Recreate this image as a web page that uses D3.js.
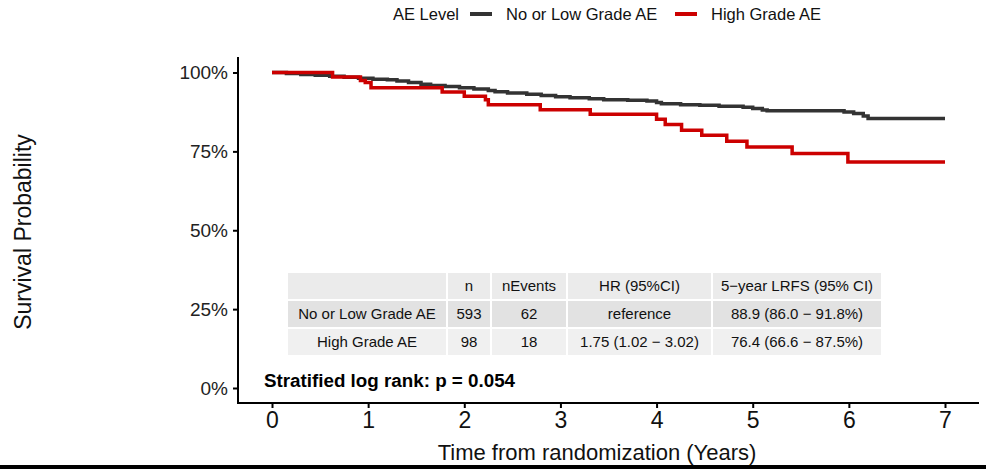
<!DOCTYPE html>
<html>
<head>
<meta charset="utf-8">
<script src="https://cdn.jsdelivr.net/npm/d3@7"></script>
<style>
  body { margin: 0; background: #fff; }
  svg { font-family: "Liberation Sans", Arial, sans-serif; }
</style>
</head>
<body>
<svg id="svg" width="986" height="469"></svg>
<script>
// Kaplan-Meier steps
var lowTimes = [0, 0.15, 0.3, 0.45, 0.6, 0.75, 0.9, 1.05, 1.2, 1.3, 1.42, 1.55, 1.65, 1.8, 1.95, 2.1, 2.25, 2.32, 2.45, 2.65, 2.8, 2.95, 3.1, 3.3, 3.45, 3.7, 3.9, 4.0, 4.05, 4.25, 4.45, 4.65, 4.9, 5.0, 5.1, 5.15, 5.95, 6.05, 6.15, 6.2, 7];
var lowSurv = [1, 0.997, 0.994, 0.991, 0.988, 0.985, 0.982, 0.979, 0.977, 0.973, 0.968, 0.963, 0.959, 0.956, 0.952, 0.948, 0.943, 0.939, 0.935, 0.931, 0.927, 0.923, 0.920, 0.917, 0.914, 0.912, 0.910, 0.905, 0.901, 0.898, 0.896, 0.893, 0.890, 0.886, 0.881, 0.879, 0.875, 0.870, 0.862, 0.854, 0.854];

var highTimes = [0, 0.63, 0.92, 0.97, 1.03, 1.77, 2.0, 2.22, 2.25, 2.79, 3.31, 4.0, 4.09, 4.26, 4.47, 4.73, 4.94, 5.41, 5.99, 7];
var highSurv = [1, 0.986, 0.975, 0.968, 0.952, 0.938, 0.925, 0.914, 0.898, 0.882, 0.868, 0.852, 0.835, 0.817, 0.801, 0.782, 0.764, 0.743, 0.716, 0.716];

var groups = ["No or Low Grade AE", "High Grade AE"];
var groupColors = ["#333333", "#cc0000"];

var xTicks = [0, 1, 2, 3, 4, 5, 6, 7];
var yTicks = [0, 0.25, 0.5, 0.75, 1];

// summary table
var tableHeader = ["", "n", "nEvents", "HR (95%CI)", "5\u2212year LRFS (95% CI)"];
var tableRows = [
    ["No or Low Grade AE", "593", "62", "reference", "88.9 (86.0 \u2212 91.8%)"],
    ["High Grade AE", "98", "18", "1.75 (1.02 \u2212 3.02)", "76.4 (66.6 \u2212 87.5%)"]
];
var pText = "Stratified log rank: p = 0.054";

var svg = d3.select("svg");

// panel edges
var panelLeft = 238, panelRight = 979, panelTop = 57, panelBottom = 403;

var x = d3.scaleLinear().domain([0, 7]).range([272, 945]);
var y = d3.scaleLinear().domain([0, 1]).range([388, 72.5]);

// axes
var yAxis = svg.append("g")
    .attr("transform", "translate(" + panelLeft + ",0)")
    .call(d3.axisLeft(y).tickValues(yTicks).tickFormat(d3.format(".0%")).tickSize(5).tickPadding(5));
yAxis.select(".domain").remove();
yAxis.selectAll("line").attr("stroke", "#000").attr("stroke-width", 2);
yAxis.selectAll("text").attr("font-size", 19).attr("fill", "#222");

var xAxis = svg.append("g")
    .attr("transform", "translate(0," + panelBottom + ")")
    .call(d3.axisBottom(x).tickValues(xTicks).tickFormat(d3.format("d")).tickSize(5).tickPadding(4));
xAxis.select(".domain").remove();
xAxis.selectAll("line").attr("stroke", "#000").attr("stroke-width", 2);
xAxis.selectAll("text").attr("font-size", 23).attr("fill", "#111");

svg.append("line").attr("x1", panelLeft).attr("x2", panelLeft).attr("y1", panelTop).attr("y2", panelBottom + 1)
    .attr("stroke", "#000").attr("stroke-width", 2);
svg.append("line").attr("x1", panelLeft - 1).attr("x2", panelRight).attr("y1", panelBottom).attr("y2", panelBottom)
    .attr("stroke", "#000").attr("stroke-width", 2);

// axis titles
svg.append("text")
    .attr("x", 597).attr("y", 460)
    .attr("text-anchor", "middle")
    .attr("font-size", 22).attr("fill", "#111")
    .text("Time from randomization (Years)");

svg.append("text")
    .attr("transform", "translate(31,232) rotate(-90)")
    .attr("text-anchor", "middle")
    .attr("font-size", 23).attr("fill", "#111")
    .text("Survival Probability");

// table
var colEdges = [287, 447, 491, 567, 712, 882];
var rowEdges = [272, 300, 328, 356];
var rowFills = ["#ebebeb", "#e2e2e2", "#f0f0f0"];
var allRows = [tableHeader].concat(tableRows);

var table = svg.append("g");
allRows.forEach(function(row, r) {
    row.forEach(function(cell, c) {
        table.append("rect")
            .attr("x", colEdges[c] + 1).attr("y", rowEdges[r] + 1)
            .attr("width", colEdges[c + 1] - colEdges[c] - 2)
            .attr("height", rowEdges[r + 1] - rowEdges[r] - 2)
            .attr("fill", rowFills[r]);
        table.append("text")
            .attr("x", (colEdges[c] + colEdges[c + 1]) / 2)
            .attr("y", (rowEdges[r] + rowEdges[r + 1]) / 2)
            .attr("dy", "0.36em")
            .attr("text-anchor", "middle")
            .attr("font-size", 15).attr("fill", "#111")
            .text(cell);
    });
});

svg.append("text")
    .attr("x", 264).attr("y", 387)
    .attr("font-size", 18.8).attr("font-weight", "bold").attr("fill", "#000")
    .text(pText);

// survival curves
var line = d3.line()
    .x(function(d) { return x(d[0]); })
    .y(function(d) { return y(d[1]); })
    .curve(d3.curveStepAfter);

var series = [d3.zip(lowTimes, lowSurv), d3.zip(highTimes, highSurv)];
series.forEach(function(s, i) {
    svg.append("path")
        .attr("d", line(s))
        .attr("fill", "none")
        .attr("stroke", groupColors[i])
        .attr("stroke-width", 3.5);
});

// legend
svg.append("text").attr("x", 393).attr("y", 20).attr("font-size", 16.5).attr("fill", "#111").text("AE Level");
var legendX = [470, 675];
groups.forEach(function(g, i) {
    svg.append("line")
        .attr("x1", legendX[i]).attr("x2", legendX[i] + 22)
        .attr("y1", 14).attr("y2", 14)
        .attr("stroke", groupColors[i]).attr("stroke-width", 4);
    svg.append("text")
        .attr("x", legendX[i] + 36).attr("y", 20)
        .attr("font-size", 16.5).attr("fill", "#111")
        .text(g);
});

// bottom border of the picture
svg.append("rect").attr("x", 0).attr("y", 465).attr("width", 986).attr("height", 4).attr("fill", "#000");
</script>
</body>
</html>
